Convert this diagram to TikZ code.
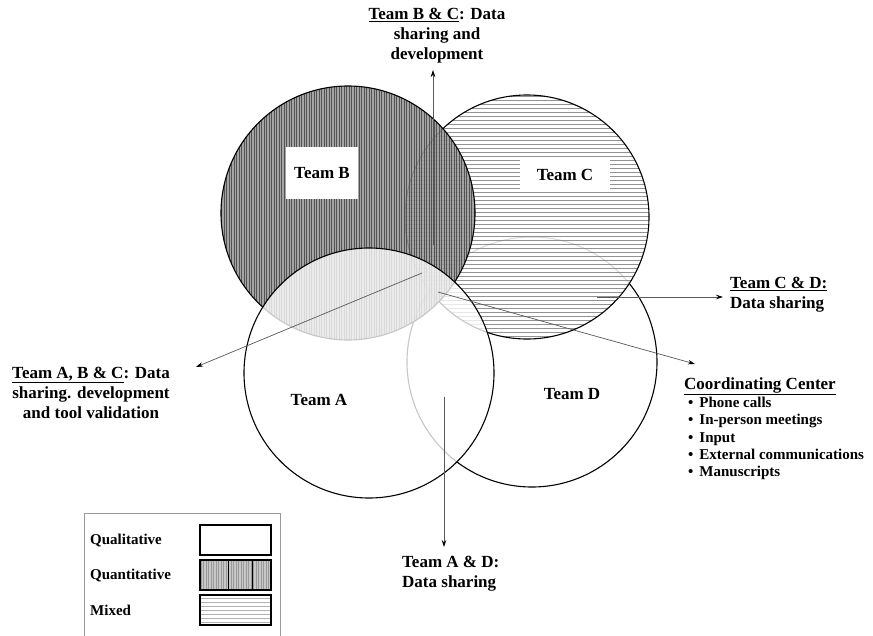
\documentclass[tikz,border=0pt]{standalone}
\usepackage{fontspec}
\setmainfont{Liberation Serif}
\usetikzlibrary{arrows.meta}
\tikzset{
  lbl/.style={font=\fontsize{17}{20}\selectfont\bfseries, inner sep=0pt},
  lgd/.style={font=\fontsize{15}{17}\selectfont\bfseries, inner sep=0pt, anchor=west},
  conn/.style={draw=black!65, line width=0.7pt, -{Stealth[length=7pt,width=4.5pt,color=black]}},
  circ/.style={draw=black, line width=1.1pt},
  swatch/.style={draw=black, line width=1.3pt},
}
\begin{document}
\begin{tikzpicture}[x=1pt,y=-1pt]
\useasboundingbox (0,0) rectangle (873,635);
\fill[white] (0,0) rectangle (873,635);
% centres
\coordinate (cA) at (369,373);
\coordinate (cB) at (348,213);
\coordinate (cC) at (527,217);
\coordinate (cD) at (532,362);
% Team D (qualitative)
\fill[white] (cD) circle (125);
\draw[circ] (cD) circle (125);
% Team C (mixed: horizontal stripes)
\begin{scope}[opacity=0.85]
  \clip (cC) circle (122);
  \fill[white] (400,90) rectangle (655,345);
  \foreach \y in {96,100,...,344} \draw[black!50, line width=1pt] (400,\y) -- (655,\y);
\end{scope}
\draw[circ] (cC) circle (122);
% Team B (quantitative: vertical stripes)
\begin{scope}[opacity=0.88]
  \clip (cB) circle (127);
  \fill[black!40] (218,84) rectangle (478,342);
  \foreach \x in {219,221.5,...,478} \draw[black!72, line width=0.7pt] (\x,84) -- (\x,342);
\end{scope}
\draw[circ] (cB) circle (127);
% Team A (qualitative)
\fill[white, opacity=0.78] (cA) circle (125);
\draw[circ] (cA) circle (125);
% circle labels
\node[lbl, fill=white, minimum width=72pt, minimum height=52pt] (tB) at (322,173) {Team B};
\node[lbl, fill=white, minimum width=90pt, minimum height=30pt] (tC) at (565,175) {Team C};
\node[lbl] (tA) at (319,400) {Team A};
\node[lbl] (tD) at (572,394) {Team D};
% arrow end points
\coordinate (sBC) at (433,245);
\coordinate (eBC) at (433,70);
\coordinate (sABC) at (422,273);
\coordinate (eABC) at (196,367);
\coordinate (sCD) at (597,297);
\coordinate (eCD) at (723,297);
\coordinate (sCC) at (438,292);
\coordinate (eCC) at (695,364);
\coordinate (sAD) at (444,397);
\coordinate (eAD) at (444,547);
\draw[conn] (sBC) -- (eBC);
\draw[conn] (sABC) -- (eABC);
\draw[conn] (sCD) -- (eCD);
\draw[conn] (sCC) -- (eCC);
\draw[conn] (sAD) -- (eAD);
% outer labels
\node[lbl, align=center] (lBC) at (437,36) {\underline{Team B \& C}: Data\\sharing and\\development};
\node[lbl, align=center] (lABC) at (91,393) {\underline{Team A, B \& C}: Data\\sharing. development\\and tool validation};
\node[lbl, align=left, anchor=west] (lCD) at (730,295) {\underline{Team C \& D:}\\Data sharing};
\node[lbl, align=left, anchor=west] (lAD) at (402,574) {Team A \& D:\\Data sharing};
\node[lbl, anchor=west] (lCC) at (684,386) {\underline{Coordinating Center}};
\node[inner sep=0pt, anchor=north west, align=left, font=\fontsize{15}{17.2}\selectfont\bfseries] (lCCi) at (688,397)
  {\textbullet\hspace{6pt}Phone calls\\\textbullet\hspace{6pt}In-person meetings\\\textbullet\hspace{6pt}Input\\\textbullet\hspace{6pt}External communications\\\textbullet\hspace{6pt}Manuscripts};
% legend
\draw[black!40, line width=0.8pt] (84,640) -- (84,513) -- (280,513) -- (280,640);
\node[lgd] (gQl) at (90,541) {Qualitative};
\node[lgd] (gQn) at (90,576) {Quantitative};
\node[lgd] (gMx) at (90,610) {Mixed};
\draw[swatch, fill=white] (200,525) rectangle (271,555);
\begin{scope}
  \clip (200,560) rectangle (271,590);
  \fill[black!22] (200,560) rectangle (271,590);
  \foreach \x in {201,203.5,...,271} \draw[black!40, line width=0.6pt] (\x,560) -- (\x,590);
  \draw[black, line width=0.8pt] (228,560) -- (228,590) (252,560) -- (252,590);
\end{scope}
\draw[swatch] (200,560) rectangle (271,590);
\begin{scope}
  \clip (200,595) rectangle (271,625);
  \fill[white] (200,595) rectangle (271,625);
  \foreach \y in {598,602,...,625} \draw[black!30, line width=0.8pt] (200,\y) -- (271,\y);
\end{scope}
\draw[swatch] (200,595) rectangle (271,625);
\end{tikzpicture}
\end{document}
